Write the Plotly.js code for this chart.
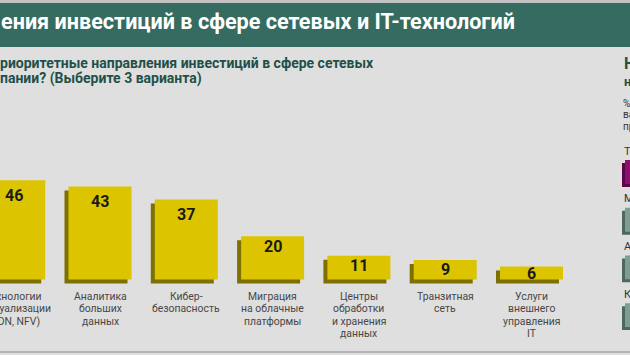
<!DOCTYPE html>
<html><head><meta charset="utf-8">
<script src="https://cdn.plot.ly/plotly-3.0.1.min.js"></script>
<style>html,body{margin:0;padding:0;background:#dfdfdf}#chart{width:630px;height:355px}</style>
</head><body><div id="chart"></div>
<script>
// ---- data ----
const categories = [
  "Технологии\nвиртуализации\n(SDN, NFV)",
  "Аналитика\nбольших\nданных",
  "Кибер-\nбезопасность",
  "Миграция\nна облачные\nплатформы",
  "Центры\nобработки\nи хранения\nданных",
  "Транзитная\nсеть",
  "Услуги\nвнешнего\nуправления\nIT"
];
const values = [46, 43, 37, 20, 11, 9, 6];
const rightLabels = ["Те", "М", "А", "К"];
const rightValues = [40, 30, 28, 25];
const titleText = "ения инвестиций в сфере сетевых и IT-технологий";
const subtitleLines = ["риоритетные направления инвестиций в сфере сетевых", "пании? (Выберите 3 варианта)"];
const sideTitleLines = ["Н", "н"];
const sideNoteLines = ["%", "ва", "пр"];

// ---- geometry helpers ----
const W = 630, H = 355;
const py = p => 1 - p / H;          // pixel-from-top -> paper
const pxPerCat = 86.3, pxPerUnit = 2.16, basePx = 279.5, firstCenterPx = 13.7;
const xr0 = -firstCenterPx / pxPerCat;
const yr0 = -(H - basePx) / pxPerUnit, yr1 = basePx / pxPerUnit;
const barW = 0.73;
const shX = 4 / pxPerCat, shY = 4 / pxPerUnit;
const idx = categories.map((_, i) => i);

// right panel
const rPx0 = 622, rPxPerCat = 47.7, rFirstCenter = 172;
const ry0 = (H - rFirstCenter) / rPxPerCat, ry1 = -rFirstCenter / rPxPerCat;
const rIdx = rightLabels.map((_, i) => i);
const rBarW = 0.5;
const rFront = ['#8d0f70', '#7f9d93', '#7f9d93', '#7f9d93'];
const rShadow = ['#5a0747', '#4d685f', '#4d685f', '#4d685f'];

const traces = [
  {type: 'bar', x: idx, y: values, base: -shY, width: barW, offset: -barW / 2 - shX,
   marker: {color: '#7d7000', line: {width: 0}}, hoverinfo: 'skip', xaxis: 'x', yaxis: 'y'},
  {type: 'bar', x: idx, y: values, width: barW, offset: -barW / 2,
   marker: {color: '#dcc400', line: {width: 0}}, hoverinfo: 'skip', xaxis: 'x', yaxis: 'y'},
  {type: 'bar', orientation: 'h', y: rIdx, x: rightValues, base: 0, width: rBarW,
   offset: -rBarW / 2 + 3 / rPxPerCat,
   marker: {color: rShadow, line: {width: 0}}, hoverinfo: 'skip', xaxis: 'x2', yaxis: 'y2'},
  {type: 'bar', orientation: 'h', y: rIdx, x: rightValues, base: 3 / 8, width: rBarW,
   offset: -rBarW / 2,
   marker: {color: rFront, line: {width: 0}}, hoverinfo: 'skip', xaxis: 'x2', yaxis: 'y2'}
];

const annotations = [];
// title
annotations.push({text: '<b>' + titleText + '</b>', xref: 'paper', yref: 'paper', x: -1 / W, y: py(21),
  xanchor: 'left', yanchor: 'middle', showarrow: false,
  font: {family: 'Roboto', size: 21.6, color: '#ffffff'}});
subtitleLines.forEach((t, j) => annotations.push({text: '<b>' + t + '</b>', xref: 'paper', yref: 'paper',
  x: -2 / W, y: py(63 + 15 * j), xanchor: 'left', yanchor: 'middle', showarrow: false,
  font: {family: 'Roboto', size: 14, color: '#234f49'}}));
// value labels
values.forEach((v, i) => {
  const hpx = v * pxPerUnit;
  const d = hpx >= 60 ? 15 : Math.min(10, hpx / 2);
  annotations.push({text: '<b>' + v + '</b>', x: i, y: v, xref: 'x', yref: 'y', yshift: -d,
    xanchor: 'center', yanchor: 'middle', showarrow: false,
    font: {family: 'Roboto', size: 16, color: '#1a1a1a'}});
});
// category labels, one annotation per line
categories.forEach((c, i) => c.split('\n').forEach((line, j) => annotations.push({
  text: line, x: i, y: 0, xref: 'x', yref: 'y', yshift: -(17 + 12.3 * j),
  xanchor: 'center', yanchor: 'middle', showarrow: false, borderpad: 0,
  font: {family: 'Roboto', size: 10.4, color: '#474747'}})));
// right panel texts
annotations.push({text: '<b>' + sideTitleLines[0] + '</b>', xref: 'paper', yref: 'paper', x: rPx0 / W, y: py(64),
  xanchor: 'left', yanchor: 'middle', showarrow: false, font: {family: 'Roboto', size: 16, color: '#234f49'}});
annotations.push({text: '<b>' + sideTitleLines[1] + '</b>', xref: 'paper', yref: 'paper', x: rPx0 / W, y: py(81),
  xanchor: 'left', yanchor: 'middle', showarrow: false, font: {family: 'Roboto', size: 13, color: '#234f49'}});
sideNoteLines.forEach((t, j) => annotations.push({text: t, xref: 'paper', yref: 'paper', x: rPx0 / W,
  y: py(103 + 11.6 * j), xanchor: 'left', yanchor: 'middle', showarrow: false, borderpad: 0,
  font: {family: 'Roboto', size: 10, color: '#333333'}}));
rightLabels.forEach((t, i) => annotations.push({text: t, xref: 'paper', yref: 'y2', x: rPx0 / W, y: i,
  yshift: 21, xanchor: 'left', yanchor: 'middle', showarrow: false,
  font: {family: 'Roboto', size: 11, color: '#333333'}}));

const shapes = [
  {type: 'rect', xref: 'paper', yref: 'paper', x0: 0, x1: 1, y0: py(0), y1: py(3), fillcolor: '#c2c2c2', line: {width: 0}, layer: 'below'},
  {type: 'rect', xref: 'paper', yref: 'paper', x0: 0, x1: 1, y0: py(3), y1: py(47), fillcolor: '#356b60', line: {width: 0}, layer: 'below'},
  {type: 'rect', xref: 'paper', yref: 'paper', x0: 0, x1: 1, y0: py(351), y1: py(353), fillcolor: '#b3b3b3', line: {width: 0}, layer: 'below'}
];

const layout = {
  width: W, height: H, autosize: false,
  margin: {l: 0, r: 0, t: 0, b: 0, pad: 0},
  paper_bgcolor: '#dfdfdf', plot_bgcolor: 'rgba(0,0,0,0)',
  barmode: 'overlay', showlegend: false,
  xaxis: {domain: [0, 1], range: [xr0, xr0 + W / pxPerCat], visible: false, fixedrange: true},
  yaxis: {domain: [0, 1], range: [yr0, yr1], visible: false, fixedrange: true},
  xaxis2: {domain: [rPx0 / W, 1], range: [0, 1], visible: false, anchor: 'y2', fixedrange: true},
  yaxis2: {domain: [0, 1], range: [ry0, ry1], visible: false, anchor: 'x2', fixedrange: true},
  annotations: annotations, shapes: shapes
};
Plotly.newPlot('chart', traces, layout, {displayModeBar: false, staticPlot: true});
</script></body></html>
